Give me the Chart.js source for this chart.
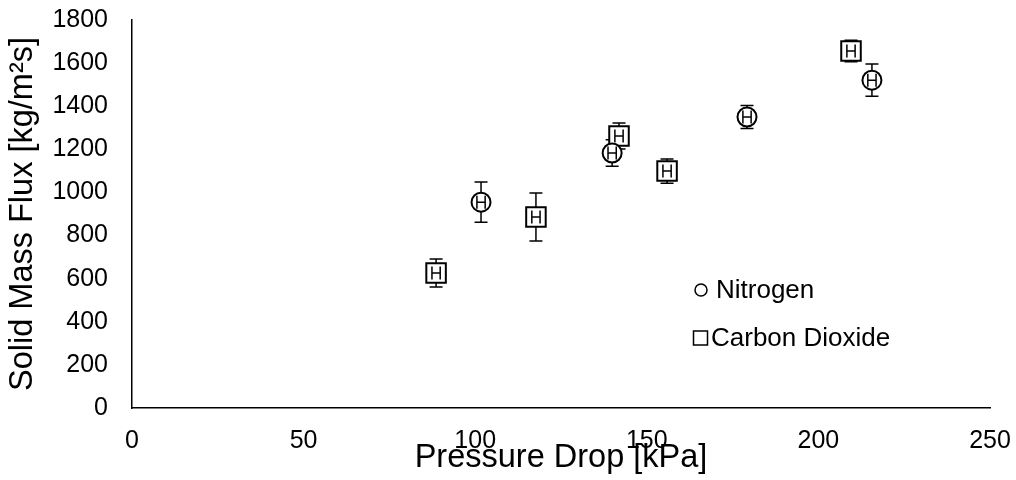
<!DOCTYPE html>
<html>
<head>
<meta charset="utf-8">
<title>Solid Mass Flux vs Pressure Drop</title>
<script src="https://cdn.jsdelivr.net/npm/chart.js@4.4.1/dist/chart.umd.min.js"></script>
<style>
  html, body { margin: 0; padding: 0; background: #fff; }
  #chart { display: block; }
</style>
</head>
<body>
<canvas id="chart" width="1016" height="480"></canvas>
<script>
// pressure drop [kPa], solid mass flux [kg/m2s] and their uncertainties
const n2Drop = [101.7, 139.9, 179.2, 215.6];
const n2Flux = [955, 1183, 1350, 1521];
const n2FluxErr = [93, 62, 53, 75];
const n2DropErr = [1.2, 1.2, 1.2, 1.2];

const co2Drop = [88.6, 117.7, 141.9, 155.9, 209.5];
const co2Flux = [626, 886, 1262, 1099, 1656];
const co2FluxErr = [65, 111, 60, 56, 50];
const co2DropErr = [1.2, 1.2, 1.2, 1.2, 1.2];

const xTicks = [0, 50, 100, 150, 200, 250];
const yTicks = [0, 200, 400, 600, 800, 1000, 1200, 1400, 1600, 1800];

const FONT = "'Liberation Sans', Arial, sans-serif";
Chart.defaults.font.family = FONT;
Chart.defaults.color = "#000";

const toPoints = (xs, ys) => xs.map((x, i) => ({ x, y: ys[i] }));

// error bars: vertical ones go under the markers, horizontal ones on top
const CAP = 6.5;
function drawErrors(chart, which) {
  const ctx = chart.ctx;
  const xs = chart.scales.x, ys = chart.scales.y;
  ctx.save();
  ctx.strokeStyle = "#000";
  ctx.lineWidth = 1.5;
  chart.data.datasets.forEach(ds => {
    ds.data.forEach((p, i) => {
      const px = xs.getPixelForValue(p.x);
      const py = ys.getPixelForValue(p.y);
      ctx.beginPath();
      if (which === "y") {
        const top = ys.getPixelForValue(p.y + ds.yErr[i]);
        const bot = ys.getPixelForValue(p.y - ds.yErr[i]);
        ctx.moveTo(px, top); ctx.lineTo(px, bot);
        ctx.moveTo(px - CAP, top); ctx.lineTo(px + CAP, top);
        ctx.moveTo(px - CAP, bot); ctx.lineTo(px + CAP, bot);
      } else {
        const l = xs.getPixelForValue(p.x - ds.xErr[i]);
        const r = xs.getPixelForValue(p.x + ds.xErr[i]);
        ctx.moveTo(l, py); ctx.lineTo(r, py);
        ctx.moveTo(l, py - CAP); ctx.lineTo(l, py + CAP);
        ctx.moveTo(r, py - CAP); ctx.lineTo(r, py + CAP);
      }
      ctx.stroke();
    });
  });
  ctx.restore();
}

const errorBars = {
  id: "errorBars",
  beforeDatasetsDraw(chart) { drawErrors(chart, "y"); },
  afterDatasetsDraw(chart) { drawErrors(chart, "x"); }
};

// legend sitting inside the plot area
const innerLegend = {
  id: "innerLegend",
  afterDraw(chart) {
    const ctx = chart.ctx;
    const rows = [290, 338];
    ctx.save();
    ctx.font = `26px ${FONT}`;
    ctx.textBaseline = "middle";
    ctx.fillStyle = "#000";
    ctx.strokeStyle = "#000";
    ctx.lineWidth = 1.5;
    chart.data.datasets.forEach((ds, i) => {
      const y = rows[i];
      ctx.beginPath();
      if (ds.pointStyle === "circle") {
        ctx.arc(701, y, 6, 0, Math.PI * 2);
      } else {
        ctx.rect(693.5, y - 7, 14, 14);
      }
      ctx.stroke();
      ctx.fillText(ds.label, ds.pointStyle === "circle" ? 716 : 711, y + 1);
    });
    ctx.restore();
  }
};

new Chart(document.getElementById("chart"), {
  type: "scatter",
  data: {
    datasets: [
      {
        label: "Nitrogen",
        data: toPoints(n2Drop, n2Flux),
        yErr: n2FluxErr,
        xErr: n2DropErr,
        pointStyle: "circle",
        pointRadius: 9.5,
        pointHoverRadius: 9.5,
        pointBorderWidth: 2,
        borderColor: "#000",
        backgroundColor: "#fff"
      },
      {
        label: "Carbon Dioxide",
        data: toPoints(co2Drop, co2Flux),
        yErr: co2FluxErr,
        xErr: co2DropErr,
        pointStyle: "rect",
        pointRadius: 13.8,
        pointHoverRadius: 13.8,
        pointBorderWidth: 2,
        borderColor: "#000",
        backgroundColor: "#fff"
      }
    ]
  },
  options: {
    responsive: false,
    animation: false,
    events: [],
    layout: { padding: { top: 20, right: 26, left: 0, bottom: 0 } },
    plugins: {
      legend: { display: false },
      tooltip: { enabled: false }
    },
    scales: {
      x: {
        type: "linear",
        min: xTicks[0],
        max: xTicks[xTicks.length - 1],
        afterBuildTicks: s => { s.ticks = xTicks.map(v => ({ value: v })); },
        afterFit: s => { s.height = 72; s.paddingLeft = 0; s.paddingRight = 0; },
        grid: { display: false },
        border: { display: true, color: "#000", width: 1.5 },
        ticks: { font: { size: 25 }, padding: 10, maxRotation: 0, color: "#000", callback: v => String(v) },
        title: {
          display: true,
          text: "Pressure Drop [kPa]",
          font: { size: 32.5 },
          color: "#000",
          padding: { top: 0, bottom: 2 }
        }
      },
      y: {
        type: "linear",
        min: yTicks[0],
        max: yTicks[yTicks.length - 1],
        afterBuildTicks: s => { s.ticks = yTicks.map(v => ({ value: v })); },
        afterFit: s => { s.width = 132; s.paddingTop = 0; s.paddingBottom = 0; },
        grid: { display: false },
        border: { display: true, color: "#000", width: 1.5 },
        ticks: { font: { size: 25 }, padding: 16, color: "#000", callback: v => String(v) },
        title: {
          display: true,
          text: "Solid Mass Flux [kg/m²s]",
          font: { size: 32.5 },
          color: "#000",
          padding: { top: 4, bottom: 0 }
        }
      }
    }
  },
  plugins: [errorBars, innerLegend]
});
</script>
</body>
</html>
